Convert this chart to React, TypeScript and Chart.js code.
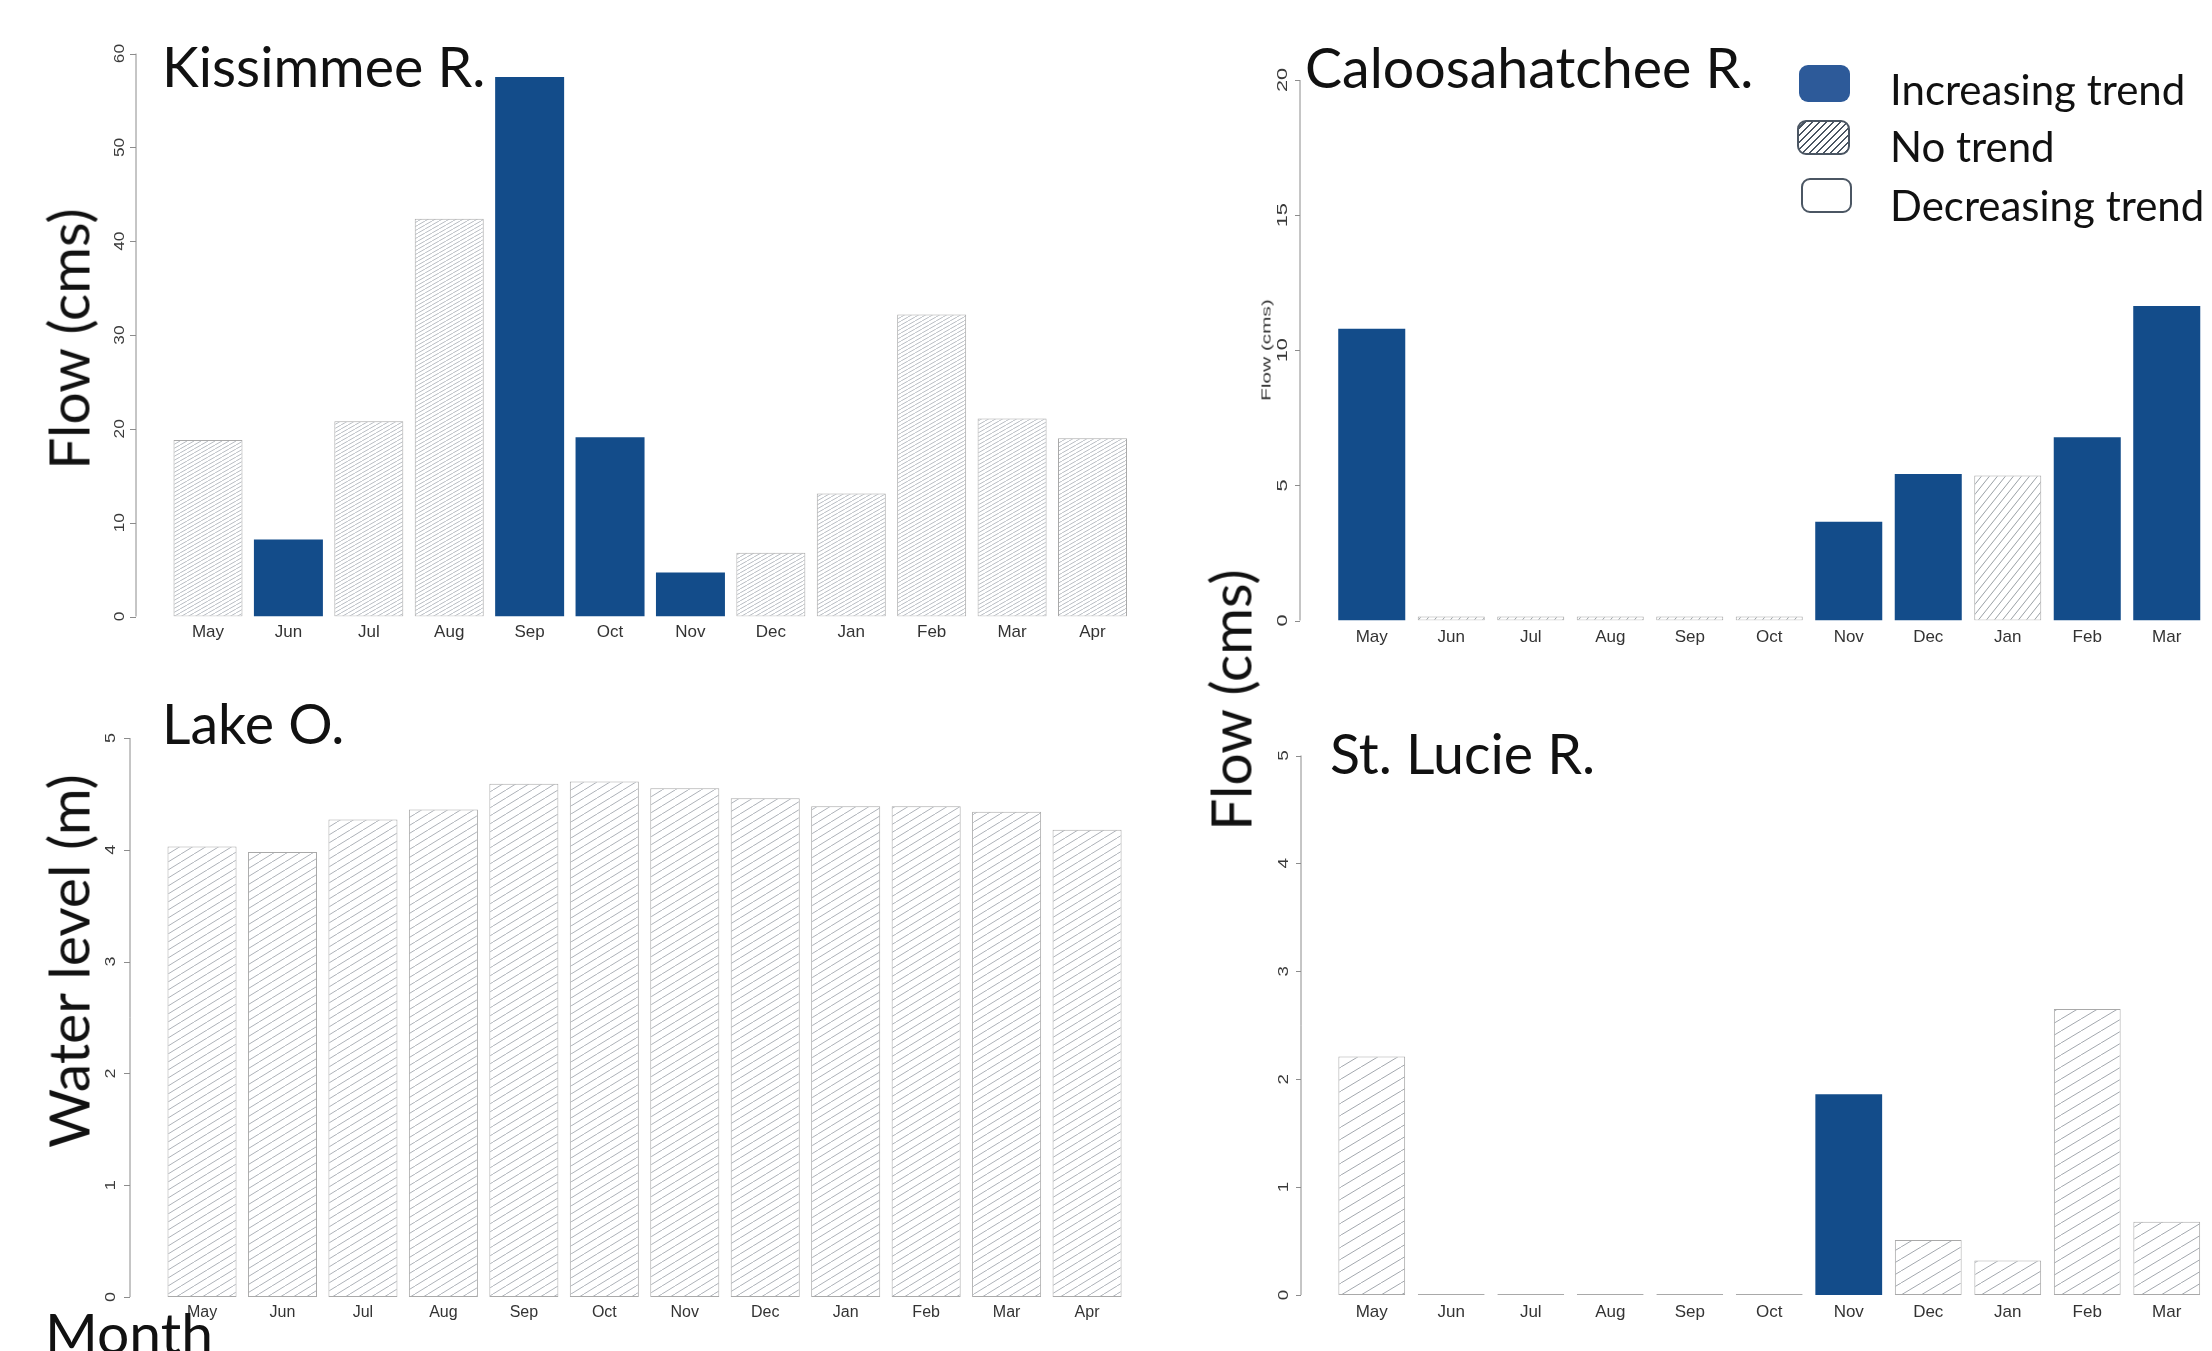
import React, { useEffect, useRef } from "react";
import { Chart, registerables } from "chart.js";

Chart.register(...registerables);

// ---------------- data ----------------
const months = ["May", "Jun", "Jul", "Aug", "Sep", "Oct", "Nov", "Dec", "Jan", "Feb", "Mar", "Apr"];

const kissimmeeFlow = [18.8, 8.2, 20.8, 42.4, 57.5, 19.1, 4.7, 6.8, 13.1, 32.2, 21.1, 19.0];
const kissimmeeTrend = ["none", "inc", "none", "none", "inc", "inc", "inc", "none", "none", "none", "none", "none"];
const kissimmeeTicks = [0, 10, 20, 30, 40, 50, 60];

const caloosahatcheeFlow = [10.8, 0.15, 0.15, 0.15, 0.15, 0.15, 3.65, 5.42, 5.37, 6.78, 11.64, null];
const caloosahatcheeTrend = ["inc", "none", "none", "none", "none", "none", "inc", "inc", "none", "inc", "inc", "none"];
const caloosahatcheeTicks = [0, 5, 10, 15, 20];

const lakeOLevel = [4.03, 3.98, 4.27, 4.36, 4.59, 4.61, 4.55, 4.46, 4.39, 4.39, 4.34, 4.18];
const lakeOTrend = ["none", "none", "none", "none", "none", "none", "none", "none", "none", "none", "none", "none"];
const lakeOTicks = [0, 1, 2, 3, 4, 5];

const stLucieFlow = [2.21, 0, 0, 0, 0, 0, 1.86, 0.51, 0.32, 2.65, 0.68, null];
const stLucieTrend = ["none", "none", "none", "none", "none", "none", "inc", "none", "none", "none", "none", "none"];
const stLucieTicks = [0, 1, 2, 3, 4, 5];

const legendLabels = ["Increasing trend", "No trend", "Decreasing trend"];

// ---------------- styles ----------------
const BLUE = "#134C8A";
const LEGEND_BLUE = "#2D5A99";
const BIG_FONT = "Lato, 'Open Sans', sans-serif";
const AXIS_FONT = "'Liberation Sans', Arial, sans-serif";

type Layout = {
  plotLeft: number;
  plotTop: number;
  plotRight: number;
  plotBottom: number;
  axisX: number;
  tickLen: number;
  labelOffset: number;
  tickFont: number;
  tickStretch: number;
  catFont: number;
  catPad: number;
  barPct: number;
  hatch: { w: number; h: number; color: string; lw: number };
  minBar: number;
};

const kissLayout: Layout = {
  plotLeft: 167.8, plotTop: 53.6, plotRight: 1132.7, plotBottom: 616.5,
  axisX: 136, tickLen: 6, labelOffset: 16, tickFont: 15, tickStretch: 1.15, catFont: 17, catPad: 6, barPct: 0.858,
  hatch: { w: 7, h: 4, color: "#b8bdc3", lw: 1 }, minBar: 0,
};
const caloLayout: Layout = {
  plotLeft: 1332, plotTop: 80, plotRight: 2286, plotBottom: 620.5,
  axisX: 1300, tickLen: 5, labelOffset: 17, tickFont: 15, tickStretch: 1.45, catFont: 17, catPad: 7, barPct: 0.843,
  hatch: { w: 8, h: 10, color: "#9aa0a6", lw: 1 }, minBar: 0,
};
const lakeLayout: Layout = {
  plotLeft: 161.8, plotTop: 738, plotRight: 1127.3, plotBottom: 1297,
  axisX: 130, tickLen: 6, labelOffset: 19, tickFont: 15, tickStretch: 1.2, catFont: 16, catPad: 6, barPct: 0.858,
  hatch: { w: 13, h: 8, color: "#adb2b8", lw: 1 }, minBar: 0,
};
const stLucieLayout: Layout = {
  plotLeft: 1332, plotTop: 755.5, plotRight: 2286, plotBottom: 1295,
  axisX: 1301, tickLen: 5, labelOffset: 17, tickFont: 15, tickStretch: 1.25, catFont: 17, catPad: 7, barPct: 0.84,
  hatch: { w: 20, h: 12, color: "#a3a8ae", lw: 1 }, minBar: 1,
};

function makeHatch(w: number, h: number, color: string, lw: number): CanvasPattern | string {
  const c = document.createElement("canvas");
  c.width = w;
  c.height = h;
  const g = c.getContext("2d");
  if (!g) return "#eee";
  g.fillStyle = "#ffffff";
  g.fillRect(0, 0, w, h);
  g.strokeStyle = color;
  g.lineWidth = lw;
  g.beginPath();
  for (let k = -1; k <= 1; k++) {
    g.moveTo(k * w, h);
    g.lineTo(k * w + w, 0);
  }
  g.stroke();
  return g.createPattern(c, "repeat") || "#eee";
}

function Panel({ layout, values, trend, ticks }: { layout: Layout; values: (number | null)[]; trend: string[]; ticks: number[] }) {
  const ref = useRef<HTMLCanvasElement>(null);
  const cLeft = Math.floor(layout.axisX - 40);
  const cTop = Math.floor(layout.plotTop - 12);
  const cRight = Math.ceil(layout.plotRight + 8);
  const cBottom = Math.ceil(layout.plotBottom + 44);
  const cw = cRight - cLeft;
  const ch = cBottom - cTop;

  useEffect(() => {
    const canvas = ref.current;
    if (!canvas) return;
    const pattern = makeHatch(layout.hatch.w, layout.hatch.h, layout.hatch.color, layout.hatch.lw);
    const tickPad = layout.catPad;
    const axisH = layout.catFont * 1.2 + tickPad * 2;
    const padding = {
      left: layout.plotLeft - cLeft,
      top: layout.plotTop - cTop,
      right: cRight - layout.plotRight,
      bottom: ch - (layout.plotBottom - cTop) - axisH,
    };
    const axisPlugin = {
      id: "rAxis",
      afterDraw(chart: any) {
        const ctx = chart.ctx as CanvasRenderingContext2D;
        const y = chart.scales.y;
        const x0 = layout.axisX - cLeft;
        ctx.save();
        ctx.strokeStyle = "#8c8c8c";
        ctx.lineWidth = 1;
        ctx.beginPath();
        ctx.moveTo(x0, y.getPixelForValue(ticks[0]));
        ctx.lineTo(x0, y.getPixelForValue(ticks[ticks.length - 1]));
        for (const v of ticks) {
          const py = Math.round(y.getPixelForValue(v)) + 0.5;
          ctx.moveTo(x0, py);
          ctx.lineTo(x0 - layout.tickLen, py);
        }
        ctx.stroke();
        ctx.fillStyle = "#3a3a3a";
        ctx.font = `${layout.tickFont}px ${AXIS_FONT}`;
        ctx.textAlign = "center";
        ctx.textBaseline = "middle";
        for (const v of ticks) {
          const py = y.getPixelForValue(v);
          ctx.save();
          ctx.translate(x0 - layout.labelOffset, py);
          ctx.rotate(-Math.PI / 2);
          ctx.scale(layout.tickStretch, 1);
          ctx.fillText(String(v), 0, 0);
          ctx.restore();
        }
        ctx.restore();
      },
    };
    const chart = new Chart(canvas, {
      type: "bar",
      data: {
        labels: months,
        datasets: [
          {
            data: values as any,
            backgroundColor: trend.map((t) => (t === "inc" ? BLUE : t === "dec" ? "#ffffff" : pattern)) as any,
            borderColor: trend.map((t) => (t === "inc" ? BLUE : "#a9a9a9")),
            borderWidth: trend.map((t) => (t === "inc" ? 0 : 1)),
            borderSkipped: false,
            barPercentage: layout.barPct,
            categoryPercentage: 1,
            minBarLength: layout.minBar,
          },
        ],
      },
      options: {
        responsive: false,
        animation: false,
        devicePixelRatio: 1,
        events: [],
        layout: { padding },
        plugins: {
          legend: { display: false },
          tooltip: { enabled: false },
          title: { display: false },
        },
        scales: {
          x: {
            type: "category",
            offset: true,
            grid: { display: false, drawTicks: false },
            border: { display: false },
            ticks: {
              color: "#333",
              font: { family: AXIS_FONT, size: layout.catFont },
              padding: tickPad,
              maxRotation: 0,
              minRotation: 0,
              autoSkip: false,
            },
          },
          y: {
            display: false,
            min: ticks[0],
            max: ticks[ticks.length - 1],
          },
        },
      },
      plugins: [axisPlugin],
    });
    return () => chart.destroy();
  }, []);

  return (
    <canvas
      ref={ref}
      width={cw}
      height={ch}
      style={{ position: "absolute", left: cLeft, top: cTop, width: cw, height: ch }}
    />
  );
}

function Text({ x, y, size, children, rotate, stretch, family, color }: any) {
  const fam = family || BIG_FONT;
  if (rotate) {
    return (
      <div
        style={{
          position: "absolute",
          left: x,
          top: y,
          fontFamily: fam,
          fontSize: size,
          lineHeight: 1,
          whiteSpace: "nowrap",
          color: color || "#111",
          transform: `translate(-50%, -50%) rotate(-90deg) scaleX(${stretch || 1})`,
        }}
      >
        {children}
      </div>
    );
  }
  return (
    <div
      style={{
        position: "absolute",
        left: x,
        top: y - 0.529 * size,
        fontFamily: fam,
        fontSize: size,
        lineHeight: 1,
        whiteSpace: "nowrap",
        color: color || "#111",
      }}
    >
      {children}
    </div>
  );
}

export default function App() {
  const boxBase: React.CSSProperties = { position: "absolute", borderRadius: 9, boxSizing: "border-box" };
  return (
    <div style={{ position: "fixed", left: 0, top: 0, width: 2212, height: 1351, overflow: "hidden", background: "#fff" }}>
      <Panel layout={kissLayout} values={kissimmeeFlow} trend={kissimmeeTrend} ticks={kissimmeeTicks} />
      <Panel layout={caloLayout} values={caloosahatcheeFlow} trend={caloosahatcheeTrend} ticks={caloosahatcheeTicks} />
      <Panel layout={lakeLayout} values={lakeOLevel} trend={lakeOTrend} ticks={lakeOTicks} />
      <Panel layout={stLucieLayout} values={stLucieFlow} trend={stLucieTrend} ticks={stLucieTicks} />

      <Text x={162} y={67} size={55.5}>Kissimmee R.</Text>
      <Text x={1305} y={68} size={55.5}>Caloosahatchee R.</Text>
      <Text x={162} y={724} size={55.5}>Lake O.</Text>
      <Text x={1330} y={754} size={55.5}>St. Lucie R.</Text>

      <Text x={68} y={339} size={57} rotate>Flow (cms)</Text>
      <Text x={68} y={961} size={57} rotate>Water level (m)</Text>
      <Text x={1230} y={700} size={57} rotate>Flow (cms)</Text>
      <Text x={45} y={1334} size={57}>Month</Text>
      <Text x={1266} y={350} size={13} rotate stretch={1.6} family={AXIS_FONT} color="#333">Flow (cms)</Text>

      <div style={{ ...boxBase, left: 1799, top: 65, width: 51, height: 37, background: LEGEND_BLUE }} />
      <div
        style={{
          ...boxBase,
          left: 1797,
          top: 120,
          width: 53,
          height: 35,
          border: "2px solid #4b5663",
          background: "repeating-linear-gradient(135deg, #ffffff 0px, #ffffff 3.5px, #4b5663 3.5px, #4b5663 5px)",
        }}
      />
      <div style={{ ...boxBase, left: 1801, top: 178, width: 51, height: 35, border: "2px solid #4b5663", background: "#fff" }} />

      <Text x={1890} y={90} size={42}>{legendLabels[0]}</Text>
      <Text x={1890} y={147} size={42}>{legendLabels[1]}</Text>
      <Text x={1890} y={206} size={42}>{legendLabels[2]}</Text>
    </div>
  );
}
